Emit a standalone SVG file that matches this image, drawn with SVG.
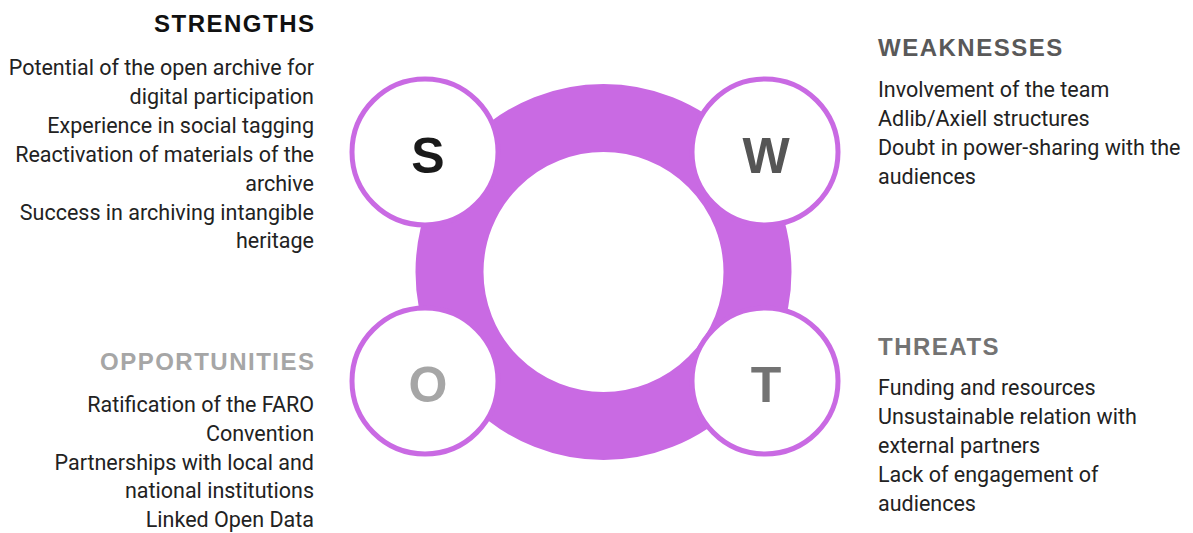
<svg xmlns="http://www.w3.org/2000/svg" width="1193" height="533" viewBox="0 0 1193 533">
<style>
.head{font-family:"Liberation Sans",Arial,sans-serif;font-weight:700;font-size:24px;letter-spacing:1.5px}
.body{font-family:Roboto,"Liberation Sans",sans-serif;font-size:21.5px;fill:#222}
.r{text-anchor:end}
.bub{fill:#fff;stroke:#c96ae3;stroke-width:5}
.let{font-family:"Liberation Sans",Arial,sans-serif;font-weight:700;font-size:50px;text-anchor:middle}
</style>
<rect width="1193" height="533" fill="#fff"/>
<g id="ring">
<circle cx="603.5" cy="272" r="154" fill="none" stroke="#c96ae3" stroke-width="68"/>
</g>
<g id="node-s">
<circle class="bub" cx="425" cy="152" r="73"/>
<text class="let" x="428" y="173" fill="#1a1a1a">S</text>
</g>
<g id="node-w">
<circle class="bub" cx="765" cy="152" r="73"/>
<text class="let" x="766" y="173" fill="#555">W</text>
</g>
<g id="node-o">
<circle class="bub" cx="425" cy="381" r="73"/>
<text class="let" x="428" y="402" fill="#a6a6a6">O</text>
</g>
<g id="node-t">
<circle class="bub" cx="765" cy="381" r="73"/>
<text class="let" x="766" y="402" fill="#737373">T</text>
</g>
<g id="strengths">
<text class="head r" x="315.5" y="32" fill="#111">STRENGTHS</text>
<text class="body r" x="314" y="75">Potential of the open archive for</text>
<text class="body r" x="314" y="104">digital participation</text>
<text class="body r" x="314" y="133">Experience in social tagging</text>
<text class="body r" x="314" y="162">Reactivation of materials of the</text>
<text class="body r" x="314" y="191">archive</text>
<text class="body r" x="314" y="220">Success in archiving intangible</text>
<text class="body r" x="314" y="248">heritage</text>
</g>
<g id="weaknesses">
<text class="head" x="878" y="56" fill="#595959">WEAKNESSES</text>
<text class="body" x="878" y="97">Involvement of the team</text>
<text class="body" x="878" y="126">Adlib/Axiell structures</text>
<text class="body" x="878" y="155">Doubt in power-sharing with the</text>
<text class="body" x="878" y="184">audiences</text>
</g>
<g id="opportunities">
<text class="head r" x="315.5" y="370" fill="#a6a6a6">OPPORTUNITIES</text>
<text class="body r" x="314" y="412">Ratification of the FARO</text>
<text class="body r" x="314" y="441">Convention</text>
<text class="body r" x="314" y="470">Partnerships with local and</text>
<text class="body r" x="314" y="498">national institutions</text>
<text class="body r" x="314" y="527">Linked Open Data</text>
</g>
<g id="threats">
<text class="head" x="878" y="355" fill="#737373">THREATS</text>
<text class="body" x="878" y="395">Funding and resources</text>
<text class="body" x="878" y="424">Unsustainable relation with</text>
<text class="body" x="878" y="453">external partners</text>
<text class="body" x="878" y="482">Lack of engagement of</text>
<text class="body" x="878" y="511">audiences</text>
</g>
<g id="connectors"/>
</svg>
